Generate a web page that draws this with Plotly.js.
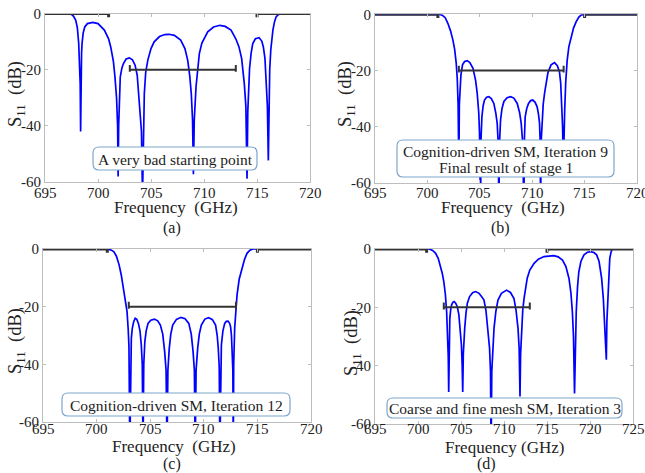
<!DOCTYPE html>
<html>
<head>
<meta charset="utf-8">
<script src="https://cdn.plot.ly/plotly-3.0.1.min.js"></script>
<style>html,body{margin:0;padding:0;background:#fff;}#chart{width:645px;height:473px;}</style>
</head>
<body>
<div id="chart"></div>
<script>
// ---------- data ----------
const freqA = [695, 697.2, 697.5, 697.7, 697.9, 698.05, 698.18, 698.27, 698.32, 698.36,
  698.4, 698.45, 698.5, 698.6, 698.75, 699.0, 699.5, 700.0, 700.6, 701.0, 701.2, 701.45, 701.6, 701.75, 701.85, 701.9,
  701.95, 702.02, 702.1, 702.25, 702.4, 702.65, 702.96, 703.25, 703.5, 703.7, 703.84, 703.98, 704.1, 704.2,
  704.27, 704.37, 704.5, 704.7, 705.0, 705.3, 705.8, 706.3, 706.7, 707.2, 707.8, 708.2, 708.46, 708.65, 708.8, 708.92, 709.0,
  709.08, 709.25, 709.4, 709.56, 709.8, 710.35, 710.9, 711.5, 712.0, 712.55, 713.0, 713.3, 713.55, 713.8, 713.95, 714.06,
  714.13, 714.22, 714.3, 714.45, 714.6, 714.85, 715.2, 715.45, 715.6, 715.75, 715.87, 715.98, 716.07,
  716.14, 716.2, 716.3, 716.4, 716.5, 716.65, 716.8, 717.0, 717.3, 720];
const s11A = [0, 0, -0.3, -1, -2.4, -5, -10.7, -17, -25, -42,
  -22, -14, -10.5, -7, -4.8, -3.6, -3.2, -3.6, -5.9, -9, -11.9, -17, -22.6, -30, -40, -58,
  -40, -28, -22.6, -19.5, -17.8, -16.2, -15.8, -16.5, -18.4, -22, -28.5, -35, -42, -65,
  -40, -28.5, -21, -16.6, -12.5, -10.1, -8.2, -7.5, -7.4, -7.8, -9.5, -12.5, -16.6, -22, -28.5, -38, -57.2,
  -38, -26, -19, -14.3, -10.5, -6.5, -4.8, -4.2, -4.6, -5.9, -9, -11.9, -16, -24.9, -33, -58.8,
  -35, -25, -19.5, -14, -10.7, -9, -8.6, -9.8, -11.9, -16, -24, -33, -52.3,
  -30, -20, -13, -8.5, -5.9, -3, -1.2, -0.4, 0, 0];

const freqB = [695, 701.1, 701.4, 701.7, 701.95, 702.2, 702.43, 702.6, 702.75, 702.85, 702.93, 703.0,
  703.05, 703.12, 703.2, 703.35, 703.55, 703.8, 704.05, 704.35, 704.6, 704.75, 704.9, 704.97, 705.07,
  705.12, 705.2, 705.32, 705.45, 705.65, 705.86, 706.1, 706.34, 706.52, 706.66, 706.76, 706.82,
  706.88, 706.98, 707.12, 707.3, 707.6, 707.94, 708.25, 708.57, 708.8, 708.95, 709.1, 709.2,
  709.26, 709.33, 709.48, 709.65, 709.85, 710.06, 710.28, 710.47, 710.6, 710.7, 710.76, 710.8,
  710.86, 710.95, 711.05, 711.18, 711.35, 711.5, 711.8, 712.13, 712.4, 712.6, 712.72, 712.8, 712.9, 712.97,
  713.02, 713.1, 713.2, 713.34, 713.5, 713.72, 713.95, 714.2, 714.45, 714.7, 715.0, 720];
const s11B = [0, 0, -0.3, -1.2, -3.2, -5.8, -9.1, -12.5, -17.4, -23, -32, -55,
  -32, -25, -21.5, -18, -16.8, -16.5, -17.2, -19.2, -23.5, -28, -35, -42, -70,
  -44, -36.5, -32.5, -30.5, -29.5, -29.3, -30, -31.7, -35, -38.8, -46, -70,
  -46, -37.6, -33.5, -31, -29.7, -29.3, -29.8, -31.7, -35, -38.8, -46, -70,
  -44, -36.5, -33.5, -31.7, -30.7, -30.5, -31.3, -32.9, -35.5, -38.8, -45, -70,
  -45, -36.5, -32, -28, -23.8, -20.8, -18, -17.2, -18.3, -20.4, -24.5, -31.7, -40, -55,
  -40, -34, -24, -16.3, -11.5, -8, -4.8, -2.6, -1, -0.2, 0, 0];

const freqC = [695, 701.0, 701.3, 701.6, 701.85, 702.1, 702.3, 702.5, 702.7, 702.84, 702.95, 703.02, 703.1,
  703.16, 703.24, 703.33, 703.46, 703.6, 703.75, 703.9, 704.05, 704.17, 704.26, 704.33,
  704.4, 704.5, 704.63, 704.8, 705.05, 705.4, 705.7, 705.95, 706.17, 706.35, 706.48, 706.57,
  706.65, 706.78, 706.92, 707.1, 707.45, 707.87, 708.25, 708.6, 708.83, 709.0, 709.12, 709.2,
  709.28, 709.43, 709.58, 709.77, 710.1, 710.45, 710.8, 711.1, 711.25, 711.35, 711.44, 711.5,
  711.56, 711.64, 711.78, 711.95, 712.1, 712.26, 712.4, 712.5, 712.58, 712.65, 712.71, 712.75,
  712.79, 712.88, 712.98, 713.1, 713.3, 713.56, 713.8, 714.03, 714.3, 714.6, 720];
const s11C = [0, 0, -0.3, -0.9, -2.5, -5.5, -9, -13.6, -18, -21.7, -28, -34, -70,
  -38, -31, -27.5, -25.2, -24, -24.4, -25.8, -28.5, -33.3, -40, -70,
  -40, -32.1, -28.3, -25.8, -24.7, -24.3, -24.9, -26.4, -29.5, -35.6, -42, -70,
  -42, -34.4, -29.5, -26.4, -24.4, -23.7, -24.2, -25.8, -29.5, -35.6, -42, -70,
  -42, -34.4, -29.5, -26.4, -24.3, -23.8, -24.5, -26.4, -30, -34.4, -41, -70,
  -41, -33.3, -28.5, -25.8, -25.1, -25, -25.7, -27, -30, -35.6, -42, -70,
  -40, -27.5, -21, -16, -10.5, -6.7, -3.6, -1.5, -0.4, 0, 0];

const freqD = [695, 701.3, 701.7, 702.05, 702.35, 702.6, 702.82, 703.0, 703.18, 703.33, 703.45, 703.52, 703.57,
  703.62, 703.7, 703.8, 703.9, 704.05, 704.2, 704.38, 704.57, 704.75, 704.9, 705.05, 705.14, 705.2,
  705.27, 705.35, 705.43, 705.58, 705.74, 706.0, 706.35, 706.7, 707.1, 707.45, 707.67, 707.9, 708.14, 708.32, 708.43, 708.5,
  708.58, 708.7, 708.84, 709.05, 709.3, 709.7, 710.3, 710.75, 711.16, 711.4, 711.63, 711.76, 711.86,
  711.93, 712.05, 712.18, 712.33, 712.5, 712.7, 713.0, 713.5, 714.0, 714.65, 715.8, 716.3, 716.8, 717.2, 717.55, 717.78, 717.95, 718.08, 718.2,
  718.28, 718.4, 718.55, 718.7, 718.95, 719.3, 719.7, 720.08, 720.45, 720.77, 721.05, 721.35, 721.55, 721.7, 721.82, 721.9,
  721.96, 722.05, 722.15, 722.3, 722.45, 722.6, 725];
const s11D = [0, 0, -0.5, -1.5, -3.2, -5.5, -8.3, -11.2, -15.5, -21.5, -29, -37, -49,
  -33, -23.8, -20.8, -19.2, -18.3, -18, -18.6, -19.8, -22.5, -27.2, -33, -40, -49,
  -36, -30, -27.2, -22, -18.6, -16.3, -15, -14.6, -15.2, -16.5, -17.5, -21, -27.2, -34, -42, -70,
  -42, -33, -27.2, -21.5, -17.5, -15.2, -14.1, -14.9, -17, -21, -27.2, -34, -50.6,
  -36, -27.2, -21, -17, -13, -10, -7.2, -4.9, -3.5, -2.6, -2.3, -2.7, -3.8, -6, -10, -15, -21.5, -30, -49.5,
  -32, -21.5, -13, -7.8, -4.2, -2, -1.1, -0.9, -1.2, -2, -4.2, -10, -17, -27.2, -33, -38,
  -25, -18, -12, -3.2, -1, 0, 0];

// specification masks
const stopLowX = [695, 701, 701];
const stopLowY = [0, 0, -1.3];
const stopHighX = [715, 715, 720];
const stopHighXd = [715, 715, 725];
const stopHighY = [-1.3, 0, 0];
const passX = [703, 703, 703, 713, 713, 713];
const passY = [-18.3, -20.7, -20, -20, -18.3, -20.7];

const xTicksABC = [695, 700, 705, 710, 715, 720];
const xTicksD = [695, 700, 705, 710, 715, 720, 725];
const yTicks = [0, -20, -40, -60];
const yTickText = ['0', '-20', '-40', '-60'];

const panelLabels = ['(a)', '(b)', '(c)', '(d)'];
const boxLines = [['A very bad starting point'],
  ['Cognition-driven SM, Iteration 9', 'Final result of stage 1'],
  ['Cognition-driven SM, Iteration 12'],
  ['Coarse and fine mesh SM, Iteration 3']];

// ---------- layout helpers ----------
const W = 645, H = 473;
const PX = x => x / W;
const PY = y => 1 - y / H;
const FONT = '"Liberation Serif", "Times New Roman", serif';

// plot boxes in px: [left, top, right, bottom]
const boxes = [[45, 13.5, 310, 182], [375, 14.3, 637, 183], [43, 249, 311, 422], [375, 249, 633, 424]];
const axNames = [['x', 'y'], ['x2', 'y2'], ['x3', 'y3'], ['x4', 'y4']];
const xTickLabelY = [193, 193, 429, 429];

const traces = [];
const curves = [[freqA, s11A], [freqB, s11B], [freqC, s11C], [freqD, s11D]];
curves.forEach((c, i) => {
  const [xa, ya] = axNames[i];
  traces.push({x: c[0], y: c[1], xaxis: xa, yaxis: ya, mode: 'lines', line: {color: '#0000ff', width: 1.7}, hoverinfo: 'skip'});
  traces.push({x: stopLowX, y: stopLowY, xaxis: xa, yaxis: ya, mode: 'lines', line: {color: '#333', width: 3}});
  traces.push({x: i === 3 ? stopHighXd : stopHighX, y: stopHighY, xaxis: xa, yaxis: ya, mode: 'lines', line: {color: '#333', width: 3}});
  traces.push({x: passX, y: passY, xaxis: xa, yaxis: ya, mode: 'lines', line: {color: '#333', width: 2}});
});

const layout = {
  width: W, height: H,
  margin: {l: 0, r: 0, t: 0, b: 0},
  paper_bgcolor: '#fff', plot_bgcolor: '#fff',
  showlegend: false,
  font: {family: FONT, color: '#222'},
  annotations: [], shapes: []
};

boxes.forEach((b, i) => {
  const sfx = i === 0 ? '' : String(i + 1);
  const common = {
    showline: true, mirror: 'ticks', linecolor: '#bdbdbd', linewidth: 1,
    ticks: 'inside', ticklen: 3, tickcolor: '#bdbdbd',
    showgrid: false, zeroline: false,
    tickfont: {family: FONT, size: 15, color: '#222'}
  };
  const xt = i === 3 ? xTicksD : xTicksABC;
  layout['xaxis' + sfx] = Object.assign({}, common, {
    domain: [PX(b[0]), PX(b[2])],
    range: i === 3 ? [695, 725] : [695, 720],
    tickvals: xt, showticklabels: false,
    anchor: 'y' + sfx
  });
  layout['yaxis' + sfx] = Object.assign({}, common, {
    domain: [PY(b[3]), PY(b[1])],
    range: [-60, 0],
    tickvals: yTicks, ticktext: yTickText,
    anchor: 'x' + sfx
  });
  // x tick labels placed on the axis scale
  xt.forEach(v => {
    layout.annotations.push({text: String(v), x: v, xref: axNames[i][0], y: PY(xTickLabelY[i]), yref: 'paper',
      showarrow: false, xanchor: 'center', yanchor: 'middle', font: {family: FONT, size: 15, color: '#222'}});
  });
});

// axis titles and panel labels (px positions)
const xTitlePos = [[176, 207], [503, 207], [174, 446], [504, 447]];
const xTitleTxt = ['Frequency\u00a0 (GHz)', 'Frequency\u00a0 (GHz)', 'Frequency\u00a0 (GHz)', 'Frequency (GHz)'];
const labelPos = [[172, 228], [500, 228], [172, 464], [486, 464]];
const yTitlePos = [[16, 94], [346, 94], [16, 341], [352, 343]];
xTitlePos.forEach((p, i) => {
  layout.annotations.push({text: xTitleTxt[i], x: PX(p[0]), y: PY(p[1]), xref: 'paper', yref: 'paper',
    showarrow: false, xanchor: 'center', yanchor: 'middle', font: {family: FONT, size: 17, color: '#222'}});
  layout.annotations.push({text: panelLabels[i], x: PX(labelPos[i][0]), y: PY(labelPos[i][1]), xref: 'paper', yref: 'paper',
    showarrow: false, xanchor: 'center', yanchor: 'middle', font: {family: FONT, size: 16, color: '#222'}});
  layout.annotations.push({text: 'S<sub>11</sub>\u00a0\u00a0(dB)', textangle: -90, x: PX(yTitlePos[i][0]), y: PY(yTitlePos[i][1]),
    xref: 'paper', yref: 'paper', showarrow: false, xanchor: 'center', yanchor: 'middle',
    font: {family: FONT, size: 18.5, color: '#222'}});
});

// rounded text boxes
function roundRect(x0, y0, x1, y1, r) {
  const p = (x, y) => PX(x).toFixed(5) + ',' + PY(y).toFixed(5);
  return 'M' + p(x0 + r, y0) + ' L' + p(x1 - r, y0) + ' Q' + p(x1, y0) + ' ' + p(x1, y0 + r) +
    ' L' + p(x1, y1 - r) + ' Q' + p(x1, y1) + ' ' + p(x1 - r, y1) +
    ' L' + p(x0 + r, y1) + ' Q' + p(x0, y1) + ' ' + p(x0, y1 - r) +
    ' L' + p(x0, y0 + r) + ' Q' + p(x0, y0) + ' ' + p(x0 + r, y0) + ' Z';
}
const textBoxes = [[93, 147, 257, 170], [397, 140, 614, 177], [62, 393, 290, 416], [387, 398, 622, 418]];
textBoxes.forEach((b, i) => {
  layout.shapes.push({type: 'path', xref: 'paper', yref: 'paper', layer: 'above',
    path: roundRect(b[0], b[1], b[2], b[3], 6), fillcolor: '#ffffff',
    line: {color: '#7ea6cc', width: 1.2}});
  const lines = boxLines[i];
  const cy = (b[1] + b[3]) / 2;
  const gap = 16;
  lines.forEach((t, k) => {
    const y = cy + (k - (lines.length - 1) / 2) * gap + 0.5;
    layout.annotations.push({text: t, x: PX((b[0] + b[2]) / 2), y: PY(y),
      xref: 'paper', yref: 'paper', showarrow: false, xanchor: 'center', yanchor: 'middle',
      font: {family: FONT, size: 15.5, color: '#222'}});
  });
});

Plotly.newPlot('chart', traces, layout, {staticPlot: true, displayModeBar: false});
</script>
</body>
</html>
